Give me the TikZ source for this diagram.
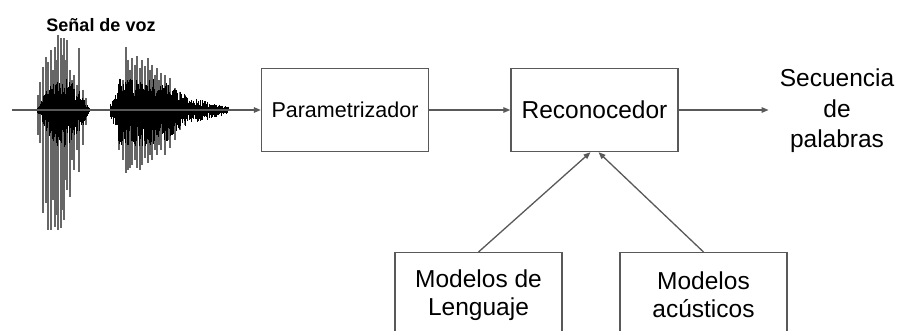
\documentclass[tikz,border=0pt]{standalone}
\usepackage{fontspec}
\setmainfont{Liberation Sans}
\usetikzlibrary{arrows.meta}
\begin{document}
\begin{tikzpicture}[x=1pt,y=-1pt,
  box/.style={draw=black!65, line width=1.4pt, minimum width=167pt, minimum height=83pt,
    inner sep=0pt, align=center, font=\fontsize{24.5}{28}\selectfont},
  conn/.style={draw=black!65, line width=1.3pt, -{Triangle[length=7pt,width=5.5pt]}},
  spike/.style={draw=black!60, line width=1.5pt},
  core/.style={draw=black, line width=0.8pt}]
\useasboundingbox (0,0) rectangle (898,331);
\clip (0,0) rectangle (898,331);
\fill[white] (0,0) rectangle (898,331);

% nodes
\node[font=\bfseries\fontsize{18}{20}\selectfont] (title) at (101,25) {Señal de voz};
\node[box, font=\fontsize{21.5}{26}\selectfont] (par) at (345,110) {Parametrizador};
\node[box] (rec) at (594.5,110) {Reconocedor};
\node[align=center, inner xsep=11pt, font=\fontsize{24.5}{30.5}\selectfont] (seq) at (837,111) {Secuencia\\de\\palabras};
\node[box, anchor=north, minimum height=84pt] (lm) at (478.5,252) {Modelos de\\Lenguaje};
\node[box, anchor=north, minimum height=84pt] (am) at (703.5,252) {Modelos\\acústicos};
\coordinate (sig) at (12,110);

% burst 1 spikes
\foreach \x/\t/\b in {40/82/143, 43/67/213, 46/57/203, 48/62/230, 51/50/230, 55/47/227,
  58/35/230, 61/38/228, 64/38/220, 67/40/190, 70/70/197, 74/75/170, 79/48/172, 83/90/145,
  38/95/135, 53/70/200, 57/60/215, 62/55/210, 66/60/180, 72/80/160, 77/85/150, 86/98/125}{
  \draw[spike] (\x,\t) -- (\x,\b);
}
% burst 2 spikes
\foreach \x/\t/\b in {119/85/150, 123/80/160, 126/47/173, 128/60/170, 132/58/165, 137/56/168, 142/60/165, 148/58/163,
  152/65/160, 157/68/155, 161/73/150, 165/75/155, 170/78/148, 175/88/140, 180/92/130,
  130/70/168, 135/65/160, 140/68/170, 145/66/158, 150/70/155, 155/75/150, 159/80/145, 168/85/140, 185/95/125}{
  \draw[spike] (\x,\t) -- (\x,\b);
}

% waveform: burst 1 core
\pgfmathsetseed{7}
\foreach \x in {36,36.5,...,90}{
  \pgfmathsetmacro\e{sin((\x-36)/54*180)}
  \pgfmathsetmacro\u{34*\e*(0.3+0.7*rnd)}
  \pgfmathsetmacro\d{38*\e*(0.3+0.7*rnd)}
  \draw[core] (\x,110-\u) -- (\x,110+\d);
}
% burst 2 core
\foreach \x in {110,110.5,...,228}{
  \pgfmathsetmacro\a{\x<118 ? 6+(\x-110)*2 : (\x<160 ? 32 : (\x<190 ? 32-(\x-160)*0.65 : 12.5-(\x-190)*0.24))}
  \pgfmathsetmacro\u{\a*(0.3+0.7*rnd)}
  \pgfmathsetmacro\d{1.15*\a*(0.3+0.7*rnd)}
  \draw[core] (\x,110-\u) -- (\x,110+\d);
}

% connectors
\draw[conn] (sig) -- (sig -| par.west);
\draw[conn] (par) -- (rec);
\draw[conn] (rec.east) -- (rec.east -| seq.west);
\draw[conn] (lm.north) -- ([xshift=-4pt]rec.south);
\draw[conn] (am.north) -- ([xshift=4pt]rec.south);
\end{tikzpicture}
\end{document}
